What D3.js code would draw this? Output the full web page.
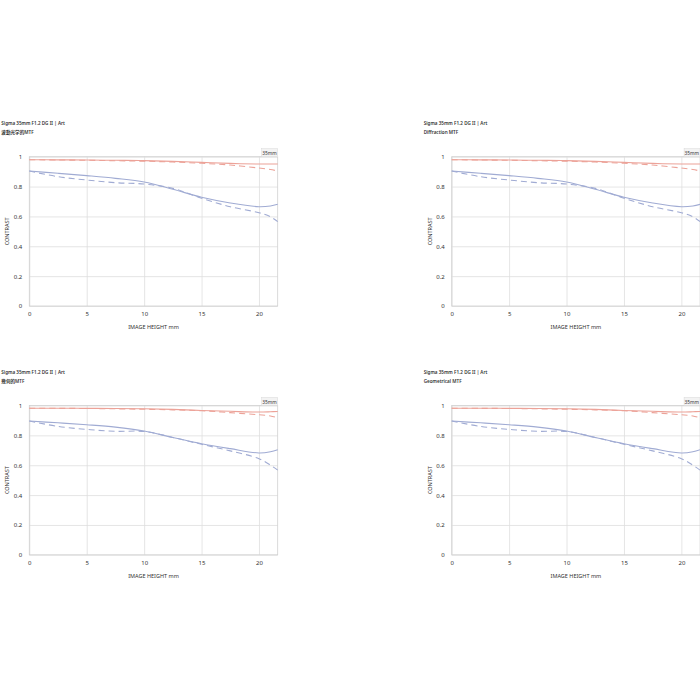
<!DOCTYPE html>
<html>
<head>
<meta charset="utf-8">
<script src="https://cdn.jsdelivr.net/npm/d3@7"></script>
<style>
  body { margin: 0; background: #fff; }
  text { font-family: "Noto Sans", "Noto Sans CJK JP", sans-serif; fill: #333; }
</style>
</head>
<body>
<div id="mtf-box"></div>
<script>
// data
const imageHeight = [0, 2.5, 5, 7.5, 10, 12.5, 15, 17.5, 20, 21, 21.63]
const xTicks = [0, 5, 10, 15, 20]
const yTicks = [0, 0.2, 0.4, 0.6, 0.8, 1]

// wave optical / diffraction MTF
const waveRedSag  = [0.980, 0.979, 0.978, 0.976, 0.974, 0.969, 0.962, 0.955, 0.951, 0.951, 0.951]
const waveRedMer  = [0.980, 0.978, 0.976, 0.973, 0.970, 0.964, 0.956, 0.944, 0.924, 0.914, 0.904]
const waveBlueSag = [0.904, 0.889, 0.873, 0.855, 0.831, 0.782, 0.728, 0.690, 0.665, 0.670, 0.681]
const waveBlueMer = [0.904, 0.866, 0.844, 0.826, 0.817, 0.788, 0.722, 0.665, 0.625, 0.598, 0.565]

// geometrical MTF
const geoRedSag  = [0.982, 0.982, 0.981, 0.980, 0.978, 0.974, 0.967, 0.961, 0.956, 0.958, 0.960]
const geoRedMer  = [0.982, 0.981, 0.980, 0.978, 0.975, 0.971, 0.965, 0.952, 0.938, 0.930, 0.918]
const geoBlueSag = [0.896, 0.884, 0.871, 0.855, 0.829, 0.786, 0.744, 0.711, 0.682, 0.690, 0.704]
const geoBlueMer = [0.896, 0.860, 0.840, 0.827, 0.826, 0.786, 0.740, 0.696, 0.644, 0.600, 0.567]

const lensName = 'Sigma 35mm F1.2 DG II | Art'
const charts = [
    { sub: '波動光学的MTF', data: [waveRedSag, waveRedMer, waveBlueSag, waveBlueMer], left: 29.3, top: 156.7 },
    { sub: 'Diffraction MTF', data: [waveRedSag, waveRedMer, waveBlueSag, waveBlueMer], left: 451.7, top: 156.7 },
    { sub: '幾何的MTF', data: [geoRedSag, geoRedMer, geoBlueSag, geoBlueMer], left: 29.3, top: 405.5 },
    { sub: 'Geometrical MTF', data: [geoRedSag, geoRedMer, geoBlueSag, geoBlueMer], left: 451.7, top: 405.5 },
]

const red = '#eca298'
const blue = '#a0abd3'
const grid = '#dedede'

const wrapper = d3.select('#mtf-box')
    .append('svg')
    .attr('width', 700)
    .attr('height', 700)

function drawChart(cfg){
    const width = 248.4
    const height = 149.3

    const xScale = d3.scaleLinear()
        .domain([0, 21.63])
        .range([0, width])
    const yScale = d3.scaleLinear()
        .domain([0, 1])
        .range([height, 0])

    const bounds = wrapper.append('g')
        .attr('transform', `translate(${cfg.left},${cfg.top})`)

    // titles
    bounds.append('text')
        .attr('x', -28)
        .attr('y', -31.5)
        .style('font-size', '4.6px')
        .style('font-weight', 600)
        .text(lensName)
    bounds.append('text')
        .attr('x', -28)
        .attr('y', -22.5)
        .style('font-size', '4.6px')
        .style('font-weight', 600)
        .text(cfg.sub)

    // gridlines
    bounds.append('g')
        .call(d3.axisLeft(yScale).tickValues(yTicks).tickSize(-width).tickFormat(''))
        .call(g => g.select('.domain').remove())
        .call(g => g.selectAll('line').attr('stroke', grid).attr('stroke-width', 0.8))
    bounds.append('g')
        .attr('transform', `translate(0,${height})`)
        .call(d3.axisBottom(xScale).tickValues(xTicks).tickSize(height).tickFormat(''))
        .call(g => g.select('.domain').remove())
        .call(g => g.selectAll('line').attr('transform', `translate(0,${-height})`)
            .attr('stroke', grid).attr('stroke-width', 0.8))

    bounds.append('rect')
        .attr('width', width)
        .attr('height', height)
        .attr('fill', 'none')
        .attr('stroke', '#d0d0d0')
        .attr('stroke-width', 0.8)

    // tick labels
    const yAxis = bounds.append('g')
        .call(d3.axisLeft(yScale).tickValues(yTicks).tickSize(0).tickPadding(7)
            .tickFormat(d => d === 0 || d === 1 ? d3.format('d')(d) : d3.format('.1f')(d)))
    yAxis.select('.domain').remove()
    yAxis.selectAll('text').style('font-size', '6px').attr('fill', '#444')

    const xAxis = bounds.append('g')
        .attr('transform', `translate(0,${height})`)
        .call(d3.axisBottom(xScale).tickValues(xTicks).tickSize(0).tickPadding(6))
    xAxis.select('.domain').remove()
    xAxis.selectAll('text').style('font-size', '6px').attr('fill', '#444')

    bounds.append('text')
        .attr('x', width / 2)
        .attr('y', height + 23)
        .attr('text-anchor', 'middle')
        .style('font-size', '5.5px')
        .text('IMAGE HEIGHT  mm')
    bounds.append('text')
        .attr('transform', `translate(-20,${height / 2}) rotate(-90)`)
        .attr('text-anchor', 'middle')
        .style('font-size', '5.5px')
        .text('CONTRAST')

    // 35mm tag
    bounds.append('rect')
        .attr('x', width - 16)
        .attr('y', -8)
        .attr('width', 16)
        .attr('height', 8)
        .attr('fill', '#f3f3f3')
        .attr('stroke', '#d8d8d8')
        .attr('stroke-width', 0.5)
    bounds.append('text')
        .attr('x', width - 1)
        .attr('y', -2)
        .attr('text-anchor', 'end')
        .style('font-size', '4.8px')
        .text('35mm')

    // curves
    const lineGenerator = d3.line()
        .x((d, i) => xScale(imageHeight[i]))
        .y(d => yScale(d))
        .curve(d3.curveCatmullRom.alpha(0.5))

    const styles = [
        { color: red, dash: null },
        { color: red, dash: '6,4' },
        { color: blue, dash: null },
        { color: blue, dash: '6,4' },
    ]
    cfg.data.forEach((series, i) => {
        bounds.append('path')
            .attr('d', lineGenerator(series))
            .attr('fill', 'none')
            .attr('stroke', styles[i].color)
            .attr('stroke-width', 1.1)
            .attr('stroke-dasharray', styles[i].dash)
    })
}

charts.forEach(drawChart)
</script>
</body>
</html>
